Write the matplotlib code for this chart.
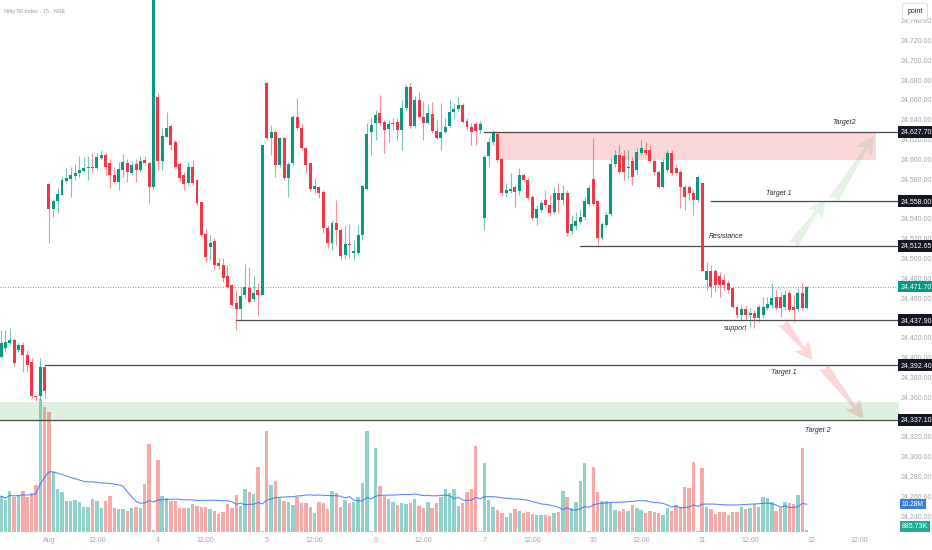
import numpy as np
import pandas as pd
import matplotlib
matplotlib.use("Agg")
import matplotlib.pyplot as plt
from matplotlib.transforms import blended_transform_factory

# ---------------- data (15-min candles, NIFTY 50) ----------------
opens = [24401,24410,24415,24418,24408,24413,24403,24396,24361,24361,24391,
 24575,24550,24558,24564,24578,24580,24583,24586,24588,24591,24592,24591,24601,24605,24596,24584,24577,24589,24596,24586,24595,24589,24599,24596,24572,
 24663,24598,24623,24634,24618,24595,24584,24576,24592,24579,24557,24525,24512,24518,24496,24494,24482,24473,24455,24449,24463,24470,24459,24468,24463,
 24677,24622,24628,24594,24622,24581,24596,24643,24632,24612,24596,24570,24572,24567,24531,24516,24536,24529,24504,24515,24506,24506,24524,24570,24628,
 24637,24647,24638,24631,24636,24638,24630,24652,24673,24634,24660,24643,24637,24646,24629,24622,24628,24634,24648,24651,24655,24639,24633,24636,24630,
 24541,24603,24618,24626,24600,24566,24568,24572,24568,24584,24579,24562,24541,24549,24559,24554,24547,24566,24559,24566,24528,24533,24537,24542,24555,
 24580,24558,24521,24534,24545,24595,24605,24603,24591,24598,24589,24607,24610,24610,24598,24587,24572,24589,24607,24591,24587,24572,24572,24566,24559,
 24576,24478,24487,24487,24482,24478,24475,24470,24451,24443,24449,24443,24445,24440,24443,24450,24453,24461,24461,24451,24465,24451,24449,24465,24450]
highs = [24428,24428,24430,24420,24415,24416,24408,24400,24362,24400,24392,
 24576,24560,24571,24582,24591,24592,24595,24603,24602,24603,24607,24607,24610,24607,24600,24592,24597,24606,24600,24598,24600,24603,24603,24597,24795,
 24667,24632,24648,24636,24620,24597,24587,24597,24599,24579,24558,24530,24524,24521,24501,24501,24494,24474,24468,24471,24495,24491,24482,24475,24615,
 24678,24635,24630,24623,24623,24597,24645,24662,24637,24613,24597,24581,24573,24569,24534,24539,24559,24531,24533,24535,24519,24534,24574,24637,24642,
 24650,24665,24640,24640,24642,24642,24660,24676,24677,24664,24668,24659,24656,24658,24640,24657,24642,24660,24657,24663,24657,24642,24637,24638,24639,
 24605,24623,24630,24627,24602,24576,24586,24574,24591,24586,24581,24564,24554,24559,24569,24564,24572,24576,24574,24569,24544,24547,24549,24562,24574,
 24622,24559,24537,24547,24600,24610,24615,24610,24610,24602,24612,24620,24618,24615,24600,24589,24600,24610,24610,24595,24589,24574,24574,24569,24584,
 24577,24497,24494,24489,24486,24484,24478,24471,24453,24453,24453,24450,24448,24453,24461,24461,24475,24468,24466,24468,24468,24463,24470,24475,24472]
lows = [24400,24406,24413,24392,24406,24386,24386,24359,24356,24357,24359,
 24516,24542,24546,24564,24576,24562,24579,24582,24587,24579,24586,24589,24600,24584,24571,24576,24569,24582,24577,24584,24577,24587,24594,24556,24570,
 24589,24589,24623,24610,24591,24577,24569,24574,24574,24554,24522,24497,24499,24488,24489,24476,24470,24452,24428,24438,24460,24455,24456,24443,24463,
 24620,24605,24582,24592,24579,24562,24594,24630,24610,24586,24568,24566,24561,24526,24511,24509,24514,24499,24500,24501,24499,24504,24519,24569,24605,
 24620,24635,24607,24618,24630,24620,24610,24650,24632,24632,24642,24620,24636,24627,24621,24610,24627,24633,24642,24649,24637,24630,24615,24615,24627,
 24529,24592,24615,24597,24564,24562,24566,24552,24564,24577,24559,24539,24534,24547,24551,24544,24545,24546,24554,24523,24525,24529,24535,24539,24553,
 24553,24512,24519,24532,24543,24592,24585,24579,24581,24574,24584,24605,24604,24597,24584,24571,24571,24587,24584,24584,24551,24549,24559,24544,24557,
 24487,24468,24461,24466,24461,24468,24465,24450,24440,24438,24438,24431,24430,24436,24440,24448,24450,24448,24441,24448,24446,24436,24447,24448,24449]
closes = [24415,24416,24418,24395,24413,24403,24393,24361,24360,24391,24366,
 24550,24558,24565,24579,24581,24584,24586,24589,24591,24592,24591,24602,24604,24592,24584,24577,24590,24597,24587,24594,24589,24598,24596,24572,24790,
 24598,24624,24632,24615,24592,24581,24575,24592,24576,24556,24524,24502,24516,24494,24492,24480,24471,24453,24449,24462,24471,24456,24465,24463,24615,
 24622,24628,24594,24622,24581,24595,24643,24632,24612,24594,24570,24573,24566,24531,24516,24536,24529,24503,24515,24514,24508,24524,24573,24626,24635,
 24645,24637,24630,24636,24637,24630,24652,24673,24634,24660,24643,24637,24647,24629,24622,24628,24633,24648,24651,24655,24638,24633,24628,24629,24636,
 24602,24618,24627,24599,24566,24569,24570,24567,24584,24579,24561,24541,24550,24556,24554,24546,24566,24559,24566,24526,24535,24538,24542,24558,24571,
 24555,24521,24535,24544,24595,24605,24587,24587,24592,24582,24608,24612,24607,24598,24587,24572,24597,24607,24586,24586,24572,24562,24566,24559,24582,
 24487,24487,24471,24473,24473,24473,24468,24451,24443,24449,24443,24445,24440,24451,24451,24454,24460,24450,24450,24463,24448,24448,24465,24450,24471.7]
volumes_m = [13.2,11.8,15.2,13.0,13.6,15.2,13.0,14.5,17.3,48.9,
 45.8,44.0,21.9,15.8,14.6,11.4,11.4,11.8,11.2,9.3,
 9.1,12.0,11.4,8.7,11.5,13.2,8.9,8.3,8.3,7.8,
 8.9,9.1,8.9,17.6,32.2,0.7,26.5,13.2,12.6,11.4,
 11.4,8.7,8.7,8.9,10.3,9.7,9.3,9.3,8.5,7.7,
 6.5,7.5,10.2,8.7,13.6,9.6,15.7,14.8,14.0,24.0,
 0.5,37.1,17.3,18.8,12.6,11.4,11.2,9.9,13.0,10.8,
 10.8,9.2,6.9,11.0,10.5,8.5,15.2,14.5,9.3,11.8,
 10.8,11.0,13.0,18.1,37.3,0.4,30.9,16.9,13.2,12.0,
 11.2,9.9,10.5,10.3,10.8,12.0,9.6,8.7,11.0,8.9,
 10.5,13.0,15.7,14.2,15.7,9.6,10.8,14.8,15.7,31.6,
 0.4,25.2,11.8,9.3,8.1,6.9,5.6,6.9,8.3,7.8,
 6.9,7.4,6.6,6.3,6.3,6.3,5.9,6.9,7.5,15.2,
 12.7,8.7,11.2,18.9,25.2,0.4,23.8,14.6,11.4,11.4,
 10.5,8.1,7.7,8.3,7.7,9.9,8.9,8.1,7.1,7.7,
 7.2,6.9,6.3,8.7,7.7,9.9,9.3,16.7,16.3,25.8,
 0.4,23.4,9.3,8.3,6.6,7.5,7.5,6.3,7.2,7.2,
 9.1,8.3,8.9,10.2,9.1,12.7,12.4,11.1,7.8,8.7,
 10.9,10.8,10.3,13.6,30.8,0.89]

x_tick_pos = [11, 22, 36, 47, 61, 72, 86, 97, 111, 122, 136, 147, 161, 172, 186, 197]
x_tick_labels = ["Aug", "12:00", "4", "12:00", "5", "12:00", "6", "12:00",
                 "7", "12:00", "10", "12:00", "11", "12:00", "12", "12:00"]
price_ticks = list(range(24240, 24741, 20))
level_prices = [24627.70, 24558.00, 24512.65, 24437.90, 24392.40, 24337.10]
level_starts = [111, 163, 133, 54, 10, -1]
last_price = 24471.70
vol_ma_value = 10.28
vol_ma_label = "10.28M"
last_vol_label = "885.73K"
title = "Nifty 50 Index · 15 · NSE"

# ---------------- styling ----------------
UP, DN = "#089981", "#f23645"
VUP, VDN = "#92d2cc", "#f7a9a7"
NARROW = ["Liberation Sans Narrow", "Liberation Sans", "DejaVu Sans"]
W, H = 932, 550
PLOT_W, PLOT_BOTTOM = 899, 532
PX_PER_M = 2.72

fig = plt.figure(figsize=(W / 100, H / 100), dpi=100)
fig.patch.set_facecolor("white")
rect = [0, (H - PLOT_BOTTOM) / H, PLOT_W / W, PLOT_BOTTOM / H]
ax_v = fig.add_axes(rect)
ax = fig.add_axes(rect)
ax.patch.set_alpha(0)

o = np.array(opens, float); c = np.array(closes, float)
hi = np.array(highs, float); lo = np.array(lows, float)
vol = np.array(volumes_m, float)
idx = np.arange(len(c))
up = c >= o

XMIN, XMAX = -0.24, 206.2
YMIN, YMAX = 24224.1, 24760.9

# volume + MA
ax_v.bar(idx, vol, width=0.78, color=np.where(up, VUP, VDN), linewidth=0)
ma = pd.Series(vol).rolling(20, min_periods=1).mean()
ax_v.plot(idx, ma, color="#2962ff", lw=0.8, alpha=0.75)
ax_v.set_xlim(XMIN, XMAX)
ax_v.set_ylim(0, PLOT_BOTTOM / PX_PER_M)
ax_v.axis("off")

# zones
ax.fill_between([XMIN, XMAX], 24337.1, 24355, color="#4caf50", alpha=0.18, lw=0, zorder=1)
ax.fill_between([113.6, 201.0], 24599, 24627.7, color="#f23645", alpha=0.2, lw=0, zorder=1)

# levels
for p, s in zip(level_prices, level_starts):
    ax.plot([s, XMAX], [p, p], color="#4a4a4a", lw=0.9, zorder=2)
ax.axhline(last_price, color=UP, lw=0.6, ls=(0, (1, 2)), zorder=2)

# candles
ax.vlines(idx, lo, hi, colors=np.where(up, UP, DN), linewidth=0.8, alpha=0.55, zorder=3)
ax.bar(idx, np.maximum(np.abs(c - o), 0.9), bottom=np.minimum(o, c), width=0.68,
       color=np.where(up, UP, DN), linewidth=0, zorder=4)

# arrows (tapered shafts)
def arrow(tail, head, col, a):
    ax.annotate("", xy=head, xytext=tail, zorder=5,
                arrowprops=dict(arrowstyle="fancy,head_width=0.9,head_length=0.9,tail_width=0.55",
                                fc=col, ec="none", alpha=a, mutation_scale=14, shrinkA=0, shrinkB=0))
arrow((181.9, 24514), (189.2, 24559), "#4caf50", 0.15)
arrow((191.1, 24559), (200.3, 24623), "#4caf50", 0.15)
arrow((179.4, 24436), (186.3, 24398), "#f23645", 0.2)
arrow((188.8, 24391), (198.0, 24339), "#f23645", 0.2)

# annotation texts
notes = [("Target2", 193.6, 24637), ("Target 1", 178.7, 24566), ("Resistance", 166.4, 24522),
         ("support", 168.6, 24429), ("Target 1", 179.8, 24385), ("Target 2", 187.6, 24327)]
for t, xi, yp in notes:
    ax.text(xi, yp, t, fontsize=5, style="italic", family=NARROW, color="#2a2e39",
            ha="center", va="center", zorder=6)

ax.set_xlim(XMIN, XMAX)
ax.set_ylim(YMIN, YMAX)
ax.axis("off")

# right price scale
tr = blended_transform_factory(fig.transFigure, ax.transData)
trv = blended_transform_factory(fig.transFigure, ax_v.transData)
XL = 916 / W
covered = level_prices + [last_price]
for p in price_ticks:
    if min(abs(p - q) for q in covered) < 5:
        continue  # label hidden under a price box
    ax.text(XL, p, f"{p:,.2f}", transform=tr, fontsize=5.0, family=NARROW, color="#a3a6af",
            ha="center", va="center", clip_on=False)
for p in level_prices:
    ax.text(XL, p, f"{p:,.2f}", transform=tr, fontsize=5.0, family=NARROW, color="white",
            ha="center", va="center", clip_on=False, zorder=10,
            bbox=dict(boxstyle="square,pad=0.32", fc="#131722", ec="none"))
ax.text(XL, last_price, f"{last_price:,.2f}", transform=tr, fontsize=5.0, family=NARROW,
        color="white", ha="center", va="center", clip_on=False, zorder=10,
        bbox=dict(boxstyle="square,pad=0.32", fc=UP, ec="none"))
ax_v.text(902 / W, vol_ma_value, vol_ma_label, transform=trv, fontsize=4.8, family=NARROW,
          color="white", ha="left", va="center", clip_on=False, zorder=10,
          bbox=dict(boxstyle="square,pad=0.25", fc="#3b7ddd", ec="none"))
fig.text(902 / W, 1 - 526.7 / H, last_vol_label, fontsize=5.0, family=NARROW, color="white",
         ha="left", va="center", bbox=dict(boxstyle="square,pad=0.32", fc="#22ab94", ec="none"))
fig.text(XL - 0.001, 1 - 11.5 / H, "point", fontsize=5, family=NARROW, color="#131722",
         ha="center", va="center", zorder=12,
         bbox=dict(boxstyle="round,pad=0.7,rounding_size=0.4", fc="white", ec="#d1d4dc", lw=0.6))

# time axis
trx = blended_transform_factory(ax.transData, fig.transFigure)
for xp, lab in zip(x_tick_pos, x_tick_labels):
    ax.text(xp, 1 - 541 / H, lab, transform=trx, fontsize=5.0, family=NARROW, color="#a3a6af",
            ha="center", va="center", clip_on=False)

fig.text(4 / W, 1 - 11 / H, title, fontsize=4.0, family=NARROW, color="#9598a1",
         ha="left", va="center")

fig.savefig("out.png", dpi=100, facecolor="white")
